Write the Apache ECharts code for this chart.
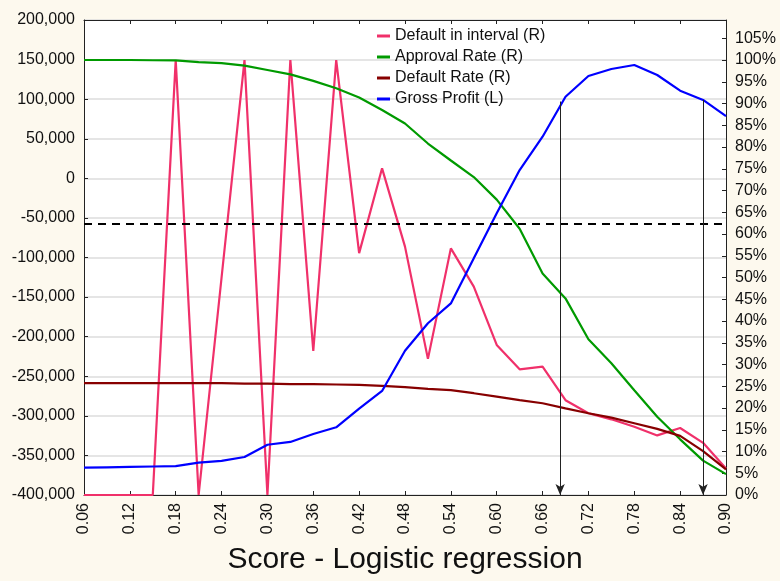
<!DOCTYPE html>
<html>
<head>
<meta charset="utf-8">
<script src="https://cdn.jsdelivr.net/npm/echarts@6/dist/echarts.min.js"></script>
<style>
  html, body { margin: 0; padding: 0; background: #fdf9ee; }
  #chart { width: 780px; height: 581px; }
</style>
</head>
<body>
<div id="chart"></div>
<script>
// score buckets (x)
const scores = [0.06, 0.09, 0.12, 0.15, 0.18, 0.21, 0.24, 0.27, 0.30, 0.33,
  0.36, 0.39, 0.42, 0.45, 0.48, 0.51, 0.54, 0.57, 0.60, 0.63,
  0.66, 0.69, 0.72, 0.75, 0.78, 0.81, 0.84, 0.87, 0.90];

// right axis, percent
const defaultInInterval = [0, 0, 0, 0, 100, 0, 50, 100, 0, 100,
  33.1, 100, 55.6, 75.1, 57.1, 31.3, 56.7, 47.9, 34.5, 28.9,
  29.5, 21.8, 18.8, 17.4, 15.7, 13.7, 15.4, 12.0, 6.1];
const approvalRate = [100, 100, 100, 99.95, 99.9, 99.5, 99.3, 98.7, 97.7, 96.7,
  95.2, 93.5, 91.4, 88.5, 85.4, 80.8, 76.9, 73.1, 67.9, 61.2,
  50.9, 45.2, 35.8, 30.3, 24.1, 18.0, 12.8, 7.9, 4.8];
const defaultRate = [25.7, 25.7, 25.7, 25.7, 25.7, 25.7, 25.7, 25.6, 25.6, 25.5,
  25.5, 25.4, 25.3, 25.1, 24.8, 24.4, 24.1, 23.4, 22.6, 21.8,
  21.1, 19.9, 18.8, 17.8, 16.5, 15.2, 13.6, 10.1, 5.9];

// left axis
const grossProfit = [-365500, -365000, -364500, -364000, -363500, -359000, -357000, -352000, -336500, -333000,
  -323000, -314500, -291000, -268600, -217700, -183000, -158000, -101000, -44200, 10500,
  52600, 103100, 129300, 138100, 143200, 130500, 110700, 99000, 78700];

const dashLevel = -56800;
const arrowScores = [0.683, 0.87];
const arrowTops = [97000, 99000];

const seriesNames = ['Default in interval (R)', 'Approval Rate (R)', 'Default Rate (R)', 'Gross Profit (L)'];
const seriesColors = ['#f0306a', '#009a00', '#870000', '#0000ff'];

const font = "'Liberation Sans', Arial, sans-serif";
const pair = (vals) => scores.map((s, i) => [s, vals[i]]);

const chart = echarts.init(document.getElementById('chart'));

const xBase = {
    type: 'value',
    min: 0.06,
    max: 0.90,
    interval: 0.06,
    axisLine: { onZero: false, lineStyle: { color: '#222', width: 1 } },
    axisTick: { inside: true, length: 4, lineStyle: { color: '#222' } },
    splitLine: { show: false },
};

const options = {
    backgroundColor: '#fdf9ee',
    animation: false,
    textStyle: { fontFamily: font },
    grid: {
        left: 84, right: 54, top: 20, bottom: 86,
        show: true, backgroundColor: '#ffffff', borderWidth: 0,
    },
    legend: {
        data: seriesNames,
        orient: 'vertical',
        left: 377,
        top: 28,
        padding: 0,
        itemWidth: 13,
        itemHeight: 3,
        itemGap: 5,
        icon: 'rect',
        textStyle: { fontSize: 16, color: '#111', fontFamily: font, lineHeight: 16 },
    },
    xAxis: [
        Object.assign({}, xBase, {
            position: 'bottom',
            name: 'Score - Logistic regression',
            nameLocation: 'middle',
            nameGap: 50,
            nameTextStyle: { fontSize: 30, color: '#111', fontFamily: font },
            axisLabel: {
                rotate: 90, margin: 8, fontSize: 16, color: '#111', fontFamily: font,
                formatter: (v) => v.toFixed(2),
            },
        }),
        Object.assign({}, xBase, {
            position: 'top',
            axisLabel: { show: false },
        }),
    ],
    yAxis: [
        {
            type: 'value',
            position: 'left',
            min: -400000,
            max: 200000,
            interval: 50000,
            axisLine: { show: true, onZero: false, lineStyle: { color: '#222' } },
            axisTick: { show: true, inside: true, length: 4, lineStyle: { color: '#222' } },
            axisLabel: {
                margin: 9, fontSize: 16, color: '#111', fontFamily: font,
                formatter: (v) => v.toLocaleString('en-US'),
            },
            splitLine: { lineStyle: { color: '#dcdcdc', width: 1.5 } },
        },
        {
            type: 'value',
            position: 'right',
            min: 0,
            max: 109.2,
            interval: 5,
            axisLine: { show: true, onZero: false, lineStyle: { color: '#222' } },
            axisTick: { show: true, inside: true, length: 4, lineStyle: { color: '#222' } },
            axisLabel: {
                margin: 9, fontSize: 16, color: '#111', fontFamily: font,
                showMaxLabel: false,
                formatter: (v) => (Math.abs(v % 5) < 1e-6 ? v + '%' : ''),
            },
            splitLine: { show: false },
        },
    ],
    series: [
        {
            name: seriesNames[0], type: 'line', yAxisIndex: 1, data: pair(defaultInInterval),
            showSymbol: false, lineStyle: { width: 2.2, color: seriesColors[0] }, itemStyle: { color: seriesColors[0] },
        },
        {
            name: seriesNames[1], type: 'line', yAxisIndex: 1, data: pair(approvalRate),
            showSymbol: false, lineStyle: { width: 2.2, color: seriesColors[1] }, itemStyle: { color: seriesColors[1] },
        },
        {
            name: seriesNames[2], type: 'line', yAxisIndex: 1, data: pair(defaultRate),
            showSymbol: false, lineStyle: { width: 2.2, color: seriesColors[2] }, itemStyle: { color: seriesColors[2] },
        },
        {
            name: seriesNames[3], type: 'line', yAxisIndex: 0, data: pair(grossProfit),
            showSymbol: false, lineStyle: { width: 2.2, color: seriesColors[3] }, itemStyle: { color: seriesColors[3] },
            markLine: {
                silent: true,
                animation: false,
                label: { show: false },
                symbol: ['none', 'none'],
                data: [
                    [
                        { coord: [0.06, dashLevel], lineStyle: { color: '#000', width: 2, type: [8, 6] } },
                        { coord: [0.90, dashLevel] },
                    ],
                ].concat(arrowScores.map((s, i) => [
                    { coord: [s, arrowTops[i]], symbol: 'none', lineStyle: { color: '#222', width: 1, type: 'solid' } },
                    { coord: [s, -400000], symbol: 'arrow', symbolSize: [7, 11] },
                ])),
            },
        },
    ],
};

chart.setOption(options);
</script>
</body>
</html>
